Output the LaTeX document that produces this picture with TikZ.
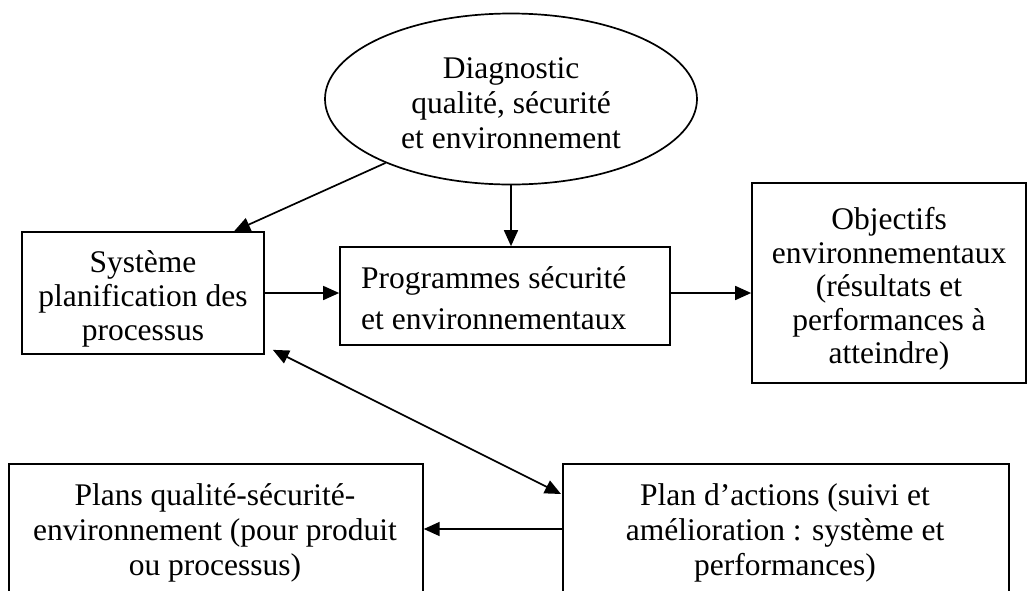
\documentclass[tikz,border=0pt]{standalone}
\usepackage{fontspec}
\setmainfont{Liberation Serif}
\usetikzlibrary{arrows.meta,shapes.geometric,calc}
\begin{document}
\begin{tikzpicture}[x=1pt,y=-1pt,
  every node/.style={font=\fontsize{31.5}{35}\selectfont},
  box/.style={draw, line width=1.7pt, inner sep=0pt},
  txt/.style={align=center, inner sep=0pt},
  tip/.style={Triangle[length=16pt,width=14pt]},
  link/.style={line width=1.7pt, -{Triangle[length=16pt,width=14pt]}},
  both/.style={line width=1.7pt, {Triangle[length=16pt,width=14pt]}-{Triangle[length=16pt,width=14pt]}},
]
\useasboundingbox (0,0) rectangle (1028,590);
\clip (0,0) rectangle (1028,590);

% top ellipse
\node[box, ellipse, minimum width=372pt, minimum height=171pt] (diag) at (511,99) {};
\node[txt] (diagtxt) at (511,103) {Diagnostic\\qualité, sécurité\\et environnement};

% middle row
\node[box, minimum width=242pt, minimum height=122pt] (sys) at (143,293) {};
\node[txt, font=\fontsize{31.5}{34}\selectfont] (systxt) at (143,299)
  {Système\\planification des\\processus};
\node[box, minimum width=330pt, minimum height=98pt] (prog) at (505,296) {};
\node[txt, anchor=west, align=left, font=\fontsize{31.5}{41}\selectfont] (progtxt) at (361,298)
  {Programmes sécurité\\et environnementaux};
\node[box, minimum width=274pt, minimum height=200pt] (obj) at (889,283) {};
\node[txt, font=\fontsize{31.5}{33.5}\selectfont] (objtxt) at (889,289)
  {Objectifs\\environnementaux\\(résultats et\\performances à\\atteindre)};

% bottom row (boxes run past the lower edge)
\node[box, anchor=north west, minimum width=414pt, minimum height=160pt] (plq) at (8,463) {};
\node[txt, anchor=north] (plqtxt) at (215,483)
  {Plans qualité-sécurité-\\environnement (pour produit\\ou processus)};
\node[box, anchor=north west, minimum width=446pt, minimum height=160pt] (pda) at (562,463) {};
\node[txt, anchor=north] (pdatxt) at (785,483)
  {Plan d’actions (suivi et\\amélioration : système et\\performances)};

% connectors
\draw[link] (diag.207.5) -- ($(sys.north west)+(213,0)$);
\draw[link] (diag.south) -- (diag.south |- prog.north);
\draw[link] (sys.east) -- (sys.east -| prog.west);
\draw[link] (sys.east -| prog.east) -- (sys.east -| obj.west);
\draw[both] ($(sys.south east)+(8,-5)$) -- ($(pda.north west)+(-1,31)$);
\draw[link] ($(pda.north west)+(0,66)$) -- ($(plq.north east)+(0,66)$);
\end{tikzpicture}
\end{document}
